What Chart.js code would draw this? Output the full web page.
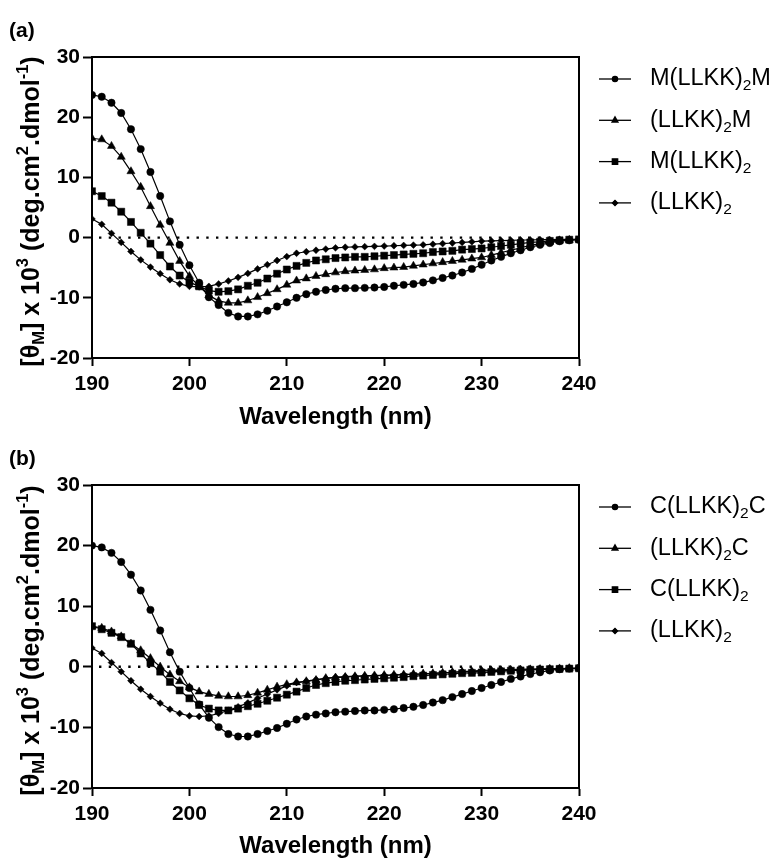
<!DOCTYPE html>
<html>
<head>
<meta charset="utf-8">
<script src="https://cdn.jsdelivr.net/npm/chart.js@4.4.1/dist/chart.umd.min.js"></script>
<style>
  html, body { margin: 0; padding: 0; background: #fff; }
  #wrap { position: relative; width: 783px; height: 859px; }
  canvas { position: absolute; left: 0; }
</style>
</head>
<body>
<div id="wrap">
  <canvas id="chartA" width="783" height="430" style="top:0px"></canvas>
  <canvas id="chartB" width="783" height="431" style="top:428px"></canvas>
</div>
<script>
// wavelength (nm), one reading per nm
var wavelength = [190, 191, 192, 193, 194, 195, 196, 197, 198, 199,
                  200, 201, 202, 203, 204, 205, 206, 207, 208, 209,
                  210, 211, 212, 213, 214, 215, 216, 217, 218, 219,
                  220, 221, 222, 223, 224, 225, 226, 227, 228, 229,
                  230, 231, 232, 233, 234, 235, 236, 237, 238, 239, 240];
var xTicks = [190, 200, 210, 220, 230, 240];
var yTicks = [-20, -10, 0, 10, 20, 30];

// [theta]M x 10^3, panel (a)
var mLLKK2M = [23.7, 23.4, 22.4, 20.7, 18.0, 14.7, 10.9, 6.9, 2.7, -1.2,
               -4.6, -7.5, -9.9, -11.2, -12.5, -13.1, -13.1, -12.75, -12.15, -11.45,
               -10.75, -10.0, -9.4, -9.0, -8.7, -8.5, -8.4, -8.4, -8.35, -8.3,
               -8.2, -8.0, -7.85, -7.7, -7.45, -7.1, -6.7, -6.3, -5.8, -5.2,
               -4.5, -3.8, -3.2, -2.6, -2.1, -1.6, -1.2, -0.9, -0.6, -0.45, -0.35];
var LLKK2M = [16.5, 16.3, 15.2, 13.4, 11.0, 8.4, 5.2, 2.1, -0.9, -3.9,
              -6.4, -8.1, -9.6, -10.5, -10.85, -10.85, -10.45, -9.9, -9.25, -8.6,
              -7.85, -7.15, -6.8, -6.4, -6.1, -5.8, -5.6, -5.5, -5.4, -5.3,
              -5.1, -5.0, -4.9, -4.7, -4.5, -4.3, -4.1, -3.9, -3.7, -3.5,
              -3.3, -2.9, -2.5, -2.1, -1.7, -1.3, -1.0, -0.7, -0.5, -0.4, -0.3];
var mLLKK2 = [7.7, 6.9, 5.8, 4.3, 2.6, 0.8, -1.0, -2.9, -4.8, -6.3,
              -7.4, -8.1, -8.8, -9.0, -8.9, -8.6, -8.0, -7.5, -6.8, -6.0,
              -5.3, -4.7, -4.2, -3.8, -3.6, -3.4, -3.3, -3.2, -3.2, -3.1,
              -3.0, -2.9, -2.8, -2.7, -2.6, -2.4, -2.3, -2.2, -2.0, -1.9,
              -1.8, -1.6, -1.4, -1.2, -1.0, -0.8, -0.7, -0.55, -0.45, -0.35, -0.3];
// (LLKK)2 is the same sample in both panels
var LLKK2 = [3.1, 2.2, 0.7, -0.8, -2.3, -3.7, -4.9, -6.0, -7.0, -7.7,
             -8.1, -8.2, -8.1, -7.7, -7.2, -6.6, -5.95, -5.2, -4.5, -3.8,
             -3.15, -2.6, -2.35, -2.1, -1.9, -1.7, -1.6, -1.55, -1.5, -1.45,
             -1.4, -1.35, -1.3, -1.25, -1.2, -1.1, -1.0, -0.9, -0.8, -0.7,
             -0.6, -0.55, -0.5, -0.45, -0.4, -0.4, -0.35, -0.35, -0.3, -0.3, -0.3];

// panel (b)
var cLLKK2C = [20.0, 19.7, 18.8, 17.3, 15.2, 12.6, 9.4, 6.0, 2.4, -0.8,
               -3.5, -6.2, -8.4, -9.95, -11.1, -11.5, -11.5, -11.1, -10.6, -10.1,
               -9.4, -8.7, -8.2, -7.9, -7.7, -7.5, -7.4, -7.3, -7.2, -7.2,
               -7.1, -7.0, -6.8, -6.6, -6.3, -5.9, -5.5, -5.0, -4.5, -4.0,
               -3.5, -3.0, -2.5, -2.0, -1.6, -1.2, -0.9, -0.6, -0.4, -0.3, -0.2];
var LLKK2C = [6.7, 6.4, 5.8, 5.0, 3.8, 2.7, 1.4, 0.0, -1.3, -2.4,
              -3.4, -4.1, -4.5, -4.8, -4.9, -4.9, -4.7, -4.3, -3.8, -3.3,
              -2.9, -2.6, -2.4, -2.2, -1.9, -1.8, -1.7, -1.6, -1.5, -1.45,
              -1.4, -1.35, -1.3, -1.2, -1.15, -1.1, -1.0, -0.9, -0.85, -0.8,
              -0.7, -0.65, -0.6, -0.55, -0.5, -0.45, -0.4, -0.35, -0.3, -0.25, -0.2];
var cLLKK2 = [6.7, 6.2, 5.6, 4.9, 3.8, 2.2, 0.6, -0.8, -2.5, -3.9,
              -5.2, -6.3, -6.9, -7.2, -7.2, -6.9, -6.5, -6.1, -5.6, -5.1,
              -4.6, -4.1, -3.5, -3.0, -2.7, -2.5, -2.3, -2.2, -2.1, -2.0,
              -1.9, -1.8, -1.7, -1.55, -1.45, -1.35, -1.25, -1.15, -1.05, -1.0,
              -0.95, -0.85, -0.75, -0.65, -0.6, -0.5, -0.45, -0.4, -0.35, -0.3, -0.25];

// labels, _{..} = subscript, ^{..} = superscript
var labelsA = ['M(LLKK)_{2}M', '(LLKK)_{2}M', 'M(LLKK)_{2}', '(LLKK)_{2}'];
var labelsB = ['C(LLKK)_{2}C', '(LLKK)_{2}C', 'C(LLKK)_{2}', '(LLKK)_{2}'];
var markers = ['circle', 'triangle', 'rect', 'rectRot'];
var markerSize = [3.7, 4.7, 5.0, 3.4];
var legendMarkerSize = [2.6, 3.4, 3.8, 2.6];
var yTitle = '[\u03B8_{M}] x 10^{3} (deg.cm^{2}.dmol^{-1})';
var xTitle = 'Wavelength (nm)';

var FONT = '"Liberation Sans", Arial, Helvetica, sans-serif';

function richParts(text) {
    return text.split(/(_\{[^}]*\}|\^\{[^}]*\})/).filter(function (s) { return s.length; }).map(function (s) {
        if (s[0] === '_' && s[1] === '{') return { t: s.slice(2, -1), dy: 0.3, small: true };
        if (s[0] === '^' && s[1] === '{') return { t: s.slice(2, -1), dy: -0.36, small: true };
        return { t: s, dy: 0, small: false };
    });
}

function drawRich(ctx, text, x, y, size, weight, align) {
    var parts = richParts(text);
    var total = 0;
    parts.forEach(function (p) {
        ctx.font = weight + ' ' + (p.small ? size * 0.66 : size) + 'px ' + FONT;
        p.w = ctx.measureText(p.t).width;
        total += p.w;
    });
    var cx = align === 'center' ? x - total / 2 : x;
    ctx.textAlign = 'left';
    ctx.textBaseline = 'middle';
    parts.forEach(function (p) {
        ctx.font = weight + ' ' + (p.small ? size * 0.66 : size) + 'px ' + FONT;
        ctx.fillText(p.t, cx, y + p.dy * size);
        cx += p.w;
    });
}

function plain(text) {
    return text.replace(/[_^]\{([^}]*)\}/g, '$1');
}

var decor = {
    id: 'decor',
    beforeDatasetsDraw: function (chart) {
        // dotted zero line
        var ctx = chart.ctx, area = chart.chartArea;
        var y0 = chart.scales.y.getPixelForValue(0);
        ctx.save();
        ctx.strokeStyle = '#000';
        ctx.lineWidth = 2.4;
        ctx.setLineDash([2.4, 7.35]);
        ctx.lineDashOffset = -7;
        ctx.beginPath();
        ctx.moveTo(area.left, y0);
        ctx.lineTo(area.right, y0);
        ctx.stroke();
        ctx.restore();
    },
    afterDraw: function (chart, args, opts) {
        var ctx = chart.ctx, area = chart.chartArea;
        ctx.save();
        ctx.fillStyle = '#000';
        ctx.strokeStyle = '#000';
        // top and right of the frame
        ctx.lineWidth = 2;
        ctx.beginPath();
        ctx.moveTo(area.left - 1, area.top);
        ctx.lineTo(area.right, area.top);
        ctx.lineTo(area.right, area.bottom + 1);
        ctx.stroke();

        // panel letter
        ctx.font = 'bold 21px ' + FONT;
        ctx.textAlign = 'left';
        ctx.textBaseline = 'middle';
        ctx.fillText(opts.panel, 9, 31);

        // y title
        ctx.save();
        ctx.translate(32, (area.top + area.bottom) / 2 + 4);
        ctx.rotate(-Math.PI / 2);
        drawRich(ctx, yTitle, 0, 0, 25, 'bold', 'center');
        ctx.restore();

        // legend
        opts.labels.forEach(function (lab, i) {
            var ly = 79 + i * 41.3;
            ctx.lineWidth = 1.3;
            ctx.beginPath();
            ctx.moveTo(599, ly);
            ctx.lineTo(631, ly);
            ctx.stroke();
            Chart.helpers.drawPoint(ctx, { pointStyle: markers[i], radius: legendMarkerSize[i], rotation: 0, borderWidth: 1 }, 615, ly);
            ctx.fill();
            drawRich(ctx, lab, 650, ly, 23.5, 'normal', 'left');
        });
        ctx.restore();
    }
};

function series(vals) {
    return wavelength.map(function (w, i) { return { x: w, y: vals[i] }; });
}

function makeChart(id, sets, labels, panel, xHeight) {
    var datasets = sets.map(function (vals, i) {
        return {
            label: plain(labels[i]),
            data: series(vals),
            borderColor: '#000',
            backgroundColor: '#000',
            borderWidth: 1.2,
            pointStyle: markers[i],
            pointRadius: markerSize[i],
            pointBackgroundColor: '#000',
            pointBorderColor: '#000',
            pointBorderWidth: 0.5,
            tension: 0
        };
    });
    // draw first dataset on top, like the figure
    datasets.reverse();
    return new Chart(document.getElementById(id), {
        type: 'line',
        data: { datasets: datasets },
        plugins: [decor],
        options: {
            responsive: false,
            animation: false,
            events: [],
            layout: { padding: { top: 57, right: 204, left: 0, bottom: 0 } },
            plugins: {
                legend: { display: false },
                tooltip: { enabled: false },
                decor: { panel: panel, labels: labels }
            },
            scales: {
                x: {
                    type: 'linear',
                    min: 190, max: 240,
                    afterBuildTicks: function (s) { s.ticks = xTicks.map(function (v) { return { value: v }; }); },
                    afterFit: function (s) { s.height = xHeight; },
                    ticks: { color: '#000', padding: 6, maxRotation: 0, font: { family: FONT, size: 21, weight: 'bold' } },
                    grid: { drawOnChartArea: false, drawTicks: true, tickLength: 8, tickWidth: 2, tickColor: '#000', color: '#000' },
                    border: { display: true, color: '#000', width: 2 },
                    title: { display: true, text: xTitle, color: '#000', padding: { top: 0, bottom: -2 }, font: { family: FONT, size: 24, weight: 'bold' } }
                },
                y: {
                    type: 'linear',
                    min: -20, max: 30,
                    afterBuildTicks: function (s) { s.ticks = yTicks.map(function (v) { return { value: v }; }); },
                    afterFit: function (s) { s.width = 92; },
                    ticks: { color: '#000', padding: 3, font: { family: FONT, size: 21, weight: 'bold' } },
                    grid: { drawOnChartArea: false, drawTicks: true, tickLength: 9, tickWidth: 2, tickColor: '#000', color: '#000' },
                    border: { display: true, color: '#000', width: 2 }
                }
            }
        }
    });
}

makeChart('chartA', [mLLKK2M, LLKK2M, mLLKK2, LLKK2], labelsA, '(a)', 72);
makeChart('chartB', [cLLKK2C, LLKK2C, cLLKK2, LLKK2], labelsB, '(b)', 71);
</script>
</body>
</html>
